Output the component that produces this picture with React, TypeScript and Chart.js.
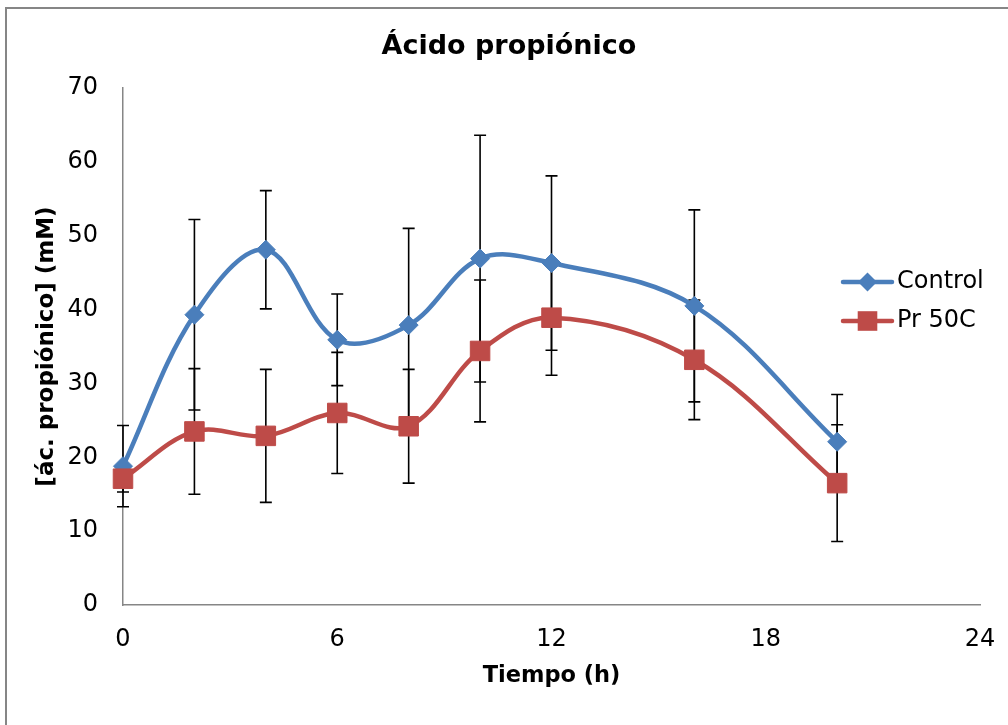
import React, { useEffect, useRef } from 'react';
import { Chart, registerables } from 'chart.js';

Chart.register(...registerables);

const hours = [0, 2, 4, 6, 8, 10, 12, 16, 20];
const controlValues = [18.8, 39.3, 48.1, 35.9, 37.9, 46.9, 46.3, 40.5, 22.1];
const controlErrors = [5.5, 12.9, 8.0, 6.2, 13.1, 16.7, 11.8, 13.0, 6.4];
const prValues = [17.1, 23.5, 22.9, 26.0, 24.2, 34.4, 38.9, 33.2, 16.5];
const prErrors = [1.8, 8.5, 9.0, 8.2, 7.7, 9.6, 7.8, 8.1, 7.9];
const seriesNames = ['Control', 'Pr 50C'];
const xTickValues = [0, 6, 12, 18, 24];
const yTickValues = [0, 10, 20, 30, 40, 50, 60, 70];

const chartTitle = 'Ácido propiónico';
const xTitle = 'Tiempo (h)';
const yTitle = '[ác. propiónico] (mM)';

const BLUE = '#4A7EBB';
const RED = '#BE4B48';
const AXIS = '#868686';
const FONT = '"DejaVu Sans", Verdana, sans-serif';

const backgroundPlugin = {
  id: 'bgBorder',
  beforeDraw(chart: any) {
    const ctx = chart.ctx;
    ctx.save();
    ctx.fillStyle = '#ffffff';
    ctx.fillRect(0, 0, chart.width, chart.height);
    ctx.strokeStyle = AXIS;
    ctx.lineWidth = 2;
    ctx.strokeRect(6, 8, chart.width + 20, chart.height + 20);
    ctx.restore();
  },
};

const errorBarPlugin = {
  id: 'errorBars',
  beforeDatasetsDraw(chart: any) {
    const ctx = chart.ctx;
    const yScale = chart.scales.y;
    ctx.save();
    ctx.strokeStyle = '#000000';
    ctx.lineWidth = 1.6;
    chart.data.datasets.forEach((ds: any, i: number) => {
      const meta = chart.getDatasetMeta(i);
      meta.data.forEach((pt: any, j: number) => {
        const v = ds.data[j].y;
        const e = ds.errors[j];
        const x = pt.x;
        const top = yScale.getPixelForValue(v + e);
        const bot = yScale.getPixelForValue(v - e);
        ctx.beginPath();
        ctx.moveTo(x, top);
        ctx.lineTo(x, bot);
        ctx.moveTo(x - 6, top);
        ctx.lineTo(x + 6, top);
        ctx.moveTo(x - 6, bot);
        ctx.lineTo(x + 6, bot);
        ctx.stroke();
      });
    });
    ctx.restore();
  },
};

const legendPlugin = {
  id: 'customLegend',
  afterDraw(chart: any) {
    const ctx = chart.ctx;
    const items = [
      { ds: chart.data.datasets[0], y: 282 },
      { ds: chart.data.datasets[1], y: 321 },
    ];
    ctx.save();
    items.forEach(({ ds, y }) => {
      const x0 = 843;
      const x1 = 892;
      const cx = (x0 + x1) / 2;
      ctx.strokeStyle = ds.borderColor;
      ctx.lineWidth = 4.5;
      ctx.lineCap = 'round';
      ctx.beginPath();
      ctx.moveTo(x0, y);
      ctx.lineTo(x1, y);
      ctx.stroke();
      ctx.fillStyle = ds.pointBackgroundColor;
      ctx.beginPath();
      if (ds.pointStyle === 'rectRot') {
        const r = 9.5;
        ctx.moveTo(cx - r, y);
        ctx.lineTo(cx, y - r);
        ctx.lineTo(cx + r, y);
        ctx.lineTo(cx, y + r);
        ctx.closePath();
      } else {
        const s = 9.8;
        ctx.rect(cx - s, y - s, 2 * s, 2 * s);
      }
      ctx.fill();
      ctx.fillStyle = '#000000';
      ctx.font = `24px ${FONT}`;
      ctx.textBaseline = 'middle';
      ctx.textAlign = 'left';
      ctx.fillText(ds.label, 897, y);
    });
    ctx.restore();
  },
};

export default function App() {
  const canvasRef = useRef<HTMLCanvasElement | null>(null);

  useEffect(() => {
    if (!canvasRef.current) return;
    const chart = new Chart(canvasRef.current, {
      type: 'scatter',
      data: {
        datasets: [
          {
            label: seriesNames[0],
            data: hours.map((h, i) => ({ x: h, y: controlValues[i] })),
            errors: controlErrors,
            showLine: true,
            borderColor: BLUE,
            backgroundColor: BLUE,
            pointBackgroundColor: BLUE,
            pointBorderColor: BLUE,
            pointBorderWidth: 1,
            pointStyle: 'rectRot',
            pointRadius: 9.5,
            borderWidth: 4.5,
            tension: 0.36,
            clip: false,
            order: 1,
          } as any,
          {
            label: seriesNames[1],
            data: hours.map((h, i) => ({ x: h, y: prValues[i] })),
            errors: prErrors,
            showLine: true,
            borderColor: RED,
            backgroundColor: RED,
            pointBackgroundColor: RED,
            pointBorderColor: RED,
            pointBorderWidth: 1,
            pointStyle: 'rect',
            pointRadius: 13.8,
            borderWidth: 4.5,
            tension: 0.36,
            clip: false,
            order: 0,
          } as any,
        ],
      },
      options: {
        responsive: false,
        animation: false,
        devicePixelRatio: 1,
        layout: { padding: { left: 10, right: 0, top: 0, bottom: 0 } },
        plugins: {
          legend: { display: false },
          tooltip: { enabled: false },
          title: {
            display: true,
            text: chartTitle,
            color: '#000000',
            font: { family: FONT, size: 27, weight: 'bold', lineHeight: 1.2 },
            padding: { top: 30.5, bottom: 25.1 },
          },
        },
        scales: {
          x: {
            type: 'linear',
            min: 0,
            max: 24,
            afterFit: (s: any) => {
              s.height = 725 - 605;
              s.paddingLeft = 0;
              s.paddingRight = 28;
            },
            afterBuildTicks: (s: any) => {
              s.ticks = xTickValues.map((v) => ({ value: v }));
            },
            grid: { display: false, drawTicks: false },
            border: { display: true, color: AXIS, width: 1.5 },
            ticks: {
              color: '#000000',
              font: { family: FONT, size: 24 },
              padding: 20,
              maxRotation: 0,
            },
            title: {
              display: true,
              text: xTitle,
              color: '#000000',
              font: { family: FONT, size: 22.5, weight: 'bold', lineHeight: 1.2 },
              padding: { top: 35.5, bottom: 35.5 },
            },
          },
          y: {
            type: 'linear',
            min: 0,
            max: 70,
            afterFit: (s: any) => {
              s.width = 123 - 10;
            },
            afterBuildTicks: (s: any) => {
              s.ticks = yTickValues.map((v) => ({ value: v }));
            },
            grid: { display: false, drawTicks: false },
            border: { display: true, color: AXIS, width: 1.5 },
            ticks: {
              color: '#000000',
              font: { family: FONT, size: 24 },
              padding: 25,
            },
            title: {
              display: true,
              text: yTitle,
              color: '#000000',
              font: { family: FONT, size: 23, weight: 'bold', lineHeight: 1.2 },
              padding: { top: 23, bottom: 23 },
            },
          },
        },
      } as any,
      plugins: [backgroundPlugin, errorBarPlugin, legendPlugin],
    });
    return () => chart.destroy();
  }, []);

  return (
    <div style={{ position: 'fixed', left: 0, top: 0, width: 1008, height: 725 }}>
      <canvas ref={canvasRef} width={1008} height={725} style={{ display: 'block' }} />
    </div>
  );
}
